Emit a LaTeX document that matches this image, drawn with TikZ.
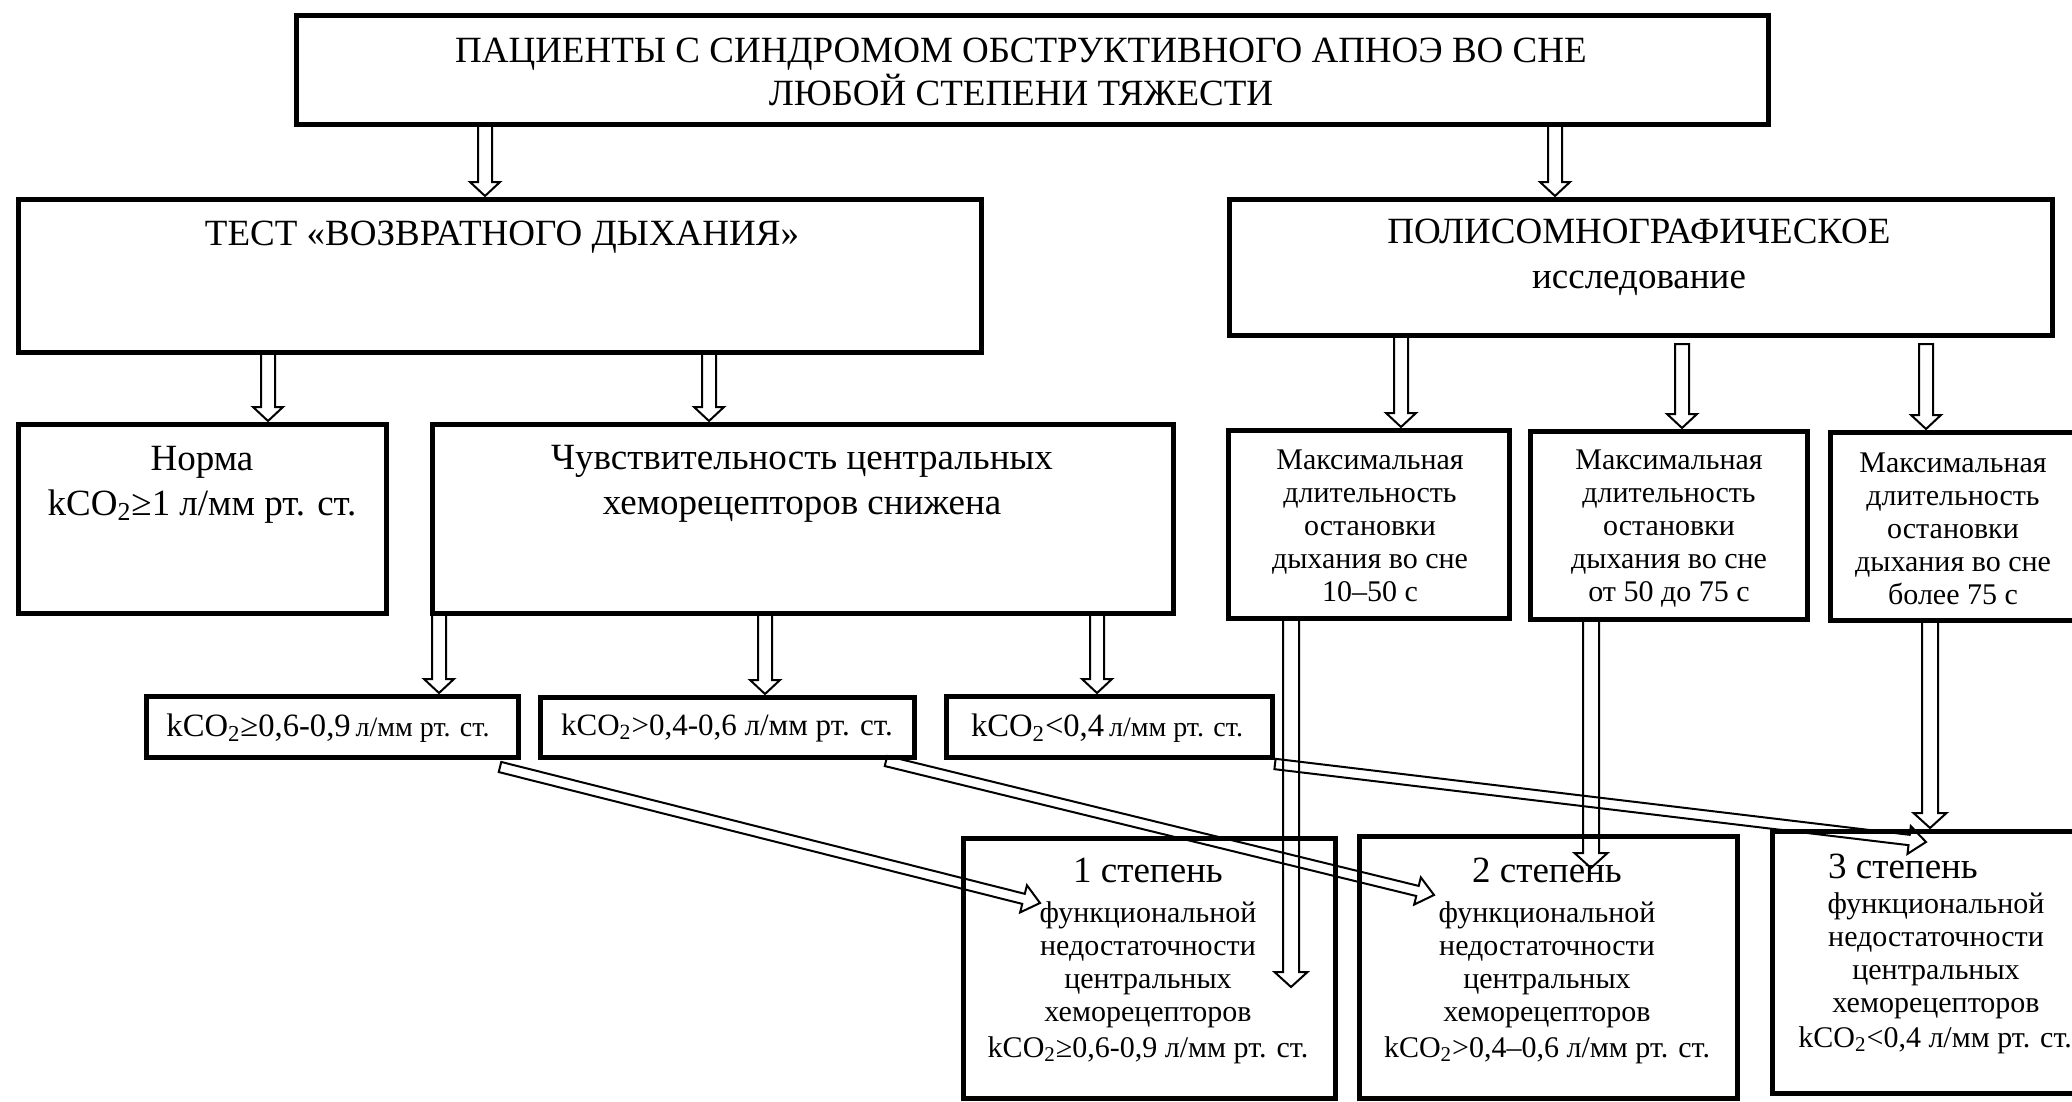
\documentclass[tikz,border=0pt]{standalone}
\usepackage{fontspec}
\setmainfont{Liberation Serif}
\usetikzlibrary{calc,fit}
\newcommand{\fsz}[2]{\fontsize{#1}{#2}\selectfont}
\newcommand{\kc}{kCO\textsubscript{2}}
\newcommand{\harrow}[5]{%
  \coordinate (hs) at (#4);
  \coordinate (he) at (#5);
  \coordinate (hn) at ($(he)!#3!(hs)$);
  \draw[arrowline] ($(hs)!#1!90:(he)$) -- ($(hn)!#1!-90:(hs)$) -- ($(hn)!#2!-90:(hs)$) -- (he) -- ($(hn)!#2!90:(hs)$) -- ($(hn)!#1!90:(hs)$) -- ($(hs)!#1!-90:(he)$) -- cycle;}
\newcommand{\varrow}[2]{\harrow{3.5pt}{7.5pt}{7pt}{#1}{#2}}
\newcommand{\larrow}[2]{\harrow{4pt}{8.25pt}{7.5pt}{#1}{#2}}
\newcommand{\darrow}[2]{\harrow{2.6pt}{7pt}{8.5pt}{#1}{#2}}
\tikzset{
  box/.style={draw, line width=2.5pt, inner sep=0pt, outer sep=0pt, fit={#1}},
  txt/.style={align=center, inner sep=0pt},
  big/.style={font=\fsz{18.5}{22.5}},
  small/.style={font=\fsz{15}{16.5}},
  arrowline/.style={draw, line width=1pt, line join=miter}
}
\begin{document}
\begin{tikzpicture}[x=0.5pt,y=-0.5pt]
\useasboundingbox (0,0) rectangle (2072,1102);
\clip (0,0) rectangle (2072,1102);
% boxes
\node[box={(296,16) (1768,125)}] (top) {};
\node[box={(18,199) (981,352)}] (test) {};
\node[box={(1229,199) (2052,335)}] (polis) {};
\node[box={(18,424) (386,613)}] (norma) {};
\node[box={(432,424) (1173,613)}] (chuv) {};
\node[box={(1228,430) (1509,618)}] (m1) {};
\node[box={(1530,431) (1807,619)}] (m2) {};
\node[box={(1830,432) (2100,620)}] (m3) {};
\node[box={(146,696) (518,757)}] (k1) {};
\node[box={(540,697) (914,757)}] (k2) {};
\node[box={(946,696) (1272,757)}] (k3) {};
\node[box={(963,838) (1335,1098)}] (b1) {};
\node[box={(1359,836) (1737,1098)}] (b2) {};
\node[box={(1772,831) (2100,1093)}] (b3) {};
% texts
\node[txt, font=\fsz{18.5}{21.5}] (toptx) at (1021,72) {ПАЦИЕНТЫ С СИНДРОМОМ ОБСТРУКТИВНОГО АПНОЭ ВО СНЕ\\ЛЮБОЙ СТЕПЕНИ ТЯЖЕСТИ};
\node[txt, big] (testtx) at (502,237) {ТЕСТ «ВОЗВРАТНОГО ДЫХАНИЯ»};
\node[txt, big] (polistx) at (1639,257) {ПОЛИСОМНОГРАФИЧЕСКОЕ\\исследование};
\node[txt, big] (normatx) at (202,485) {Норма\\\kc≥1 л/мм рт. ст.};
\node[txt, big] (chuvtx) at (802,484) {Чувствительность центральных\\хеморецепторов снижена};
\node[txt, small] (m1tx) at (1370,526) {Максимальная\\длительность\\остановки\\дыхания во сне\\10–50 с};
\node[txt, small] (m2tx) at (1669,529) {Максимальная\\длительность\\остановки\\дыхания во сне\\от 50 до 75 с};
\node[txt, small] (m3tx) at (1953,529) {Максимальная\\длительность\\остановки\\дыхания во сне\\более 75 с};
\node[txt] (k1tx) at (328,728) {{\fsz{16.3}{18}\kc≥0,6-0,9} {\fsz{14}{16}л/мм рт. ст.}};
\node[txt, font=\fsz{15.5}{18}] (k2tx) at (727,728) {\kc>0,4-0,6 л/мм рт. ст.};
\node[txt] (k3tx) at (1107,728) {{\fsz{16.3}{18}\kc<0,4} {\fsz{14}{16}л/мм рт. ст.}};
\node[txt, small] (b1tx) at (1148,961) {{\fsz{18.5}{16.5}1 степень}\\[3.5pt]функциональной\\недостаточности\\центральных\\хеморецепторов\\[1.5pt]\kc≥0,6-0,9 л/мм рт. ст.};
\node[txt, small] (b2tx) at (1547,961) {{\fsz{18.5}{16.5}2 степень}\\[3.5pt]функциональной\\недостаточности\\центральных\\хеморецепторов\\[1.5pt]\kc>0,4–0,6 л/мм рт. ст.};
\node[txt, font=\fsz{18.5}{16.5}] (b3head) at (1903,866) {3 степень};
\node[txt, small] (b3tx) at (1936,956) {функциональной\\недостаточности\\центральных\\хеморецепторов};
\node[txt, small, anchor=west] (b3last) at (1798,1040) {\kc<0,4 л/мм рт. ст.};
% vertical arrows
\varrow{$(top.south west)+(189,0)$}{$(test.north west)+(467,-3)$}
\varrow{$(top.south west)+(1259,0)$}{$(polis.north west)+(326,-3)$}
\varrow{$(test.south west)+(250,0)$}{$(norma.north west)+(250,-3)$}
\varrow{$(test.south west)+(691,0)$}{$(chuv.north west)+(277,-3)$}
\varrow{$(polis.south west)+(172,0)$}{$(m1.north west)+(173,-3)$}
\varrow{$(polis.south west)+(453,9)$}{$(m2.north west)+(152,-3)$}
\varrow{$(polis.south west)+(697,9)$}{$(m3.north west)+(96,-3)$}
\varrow{$(chuv.south west)+(7,0)$}{$(k1.north west)+(293,-3)$}
\varrow{$(chuv.south west)+(333,0)$}{$(k2.north west)+(225,-3)$}
\varrow{$(chuv.south west)+(665,0)$}{$(k3.north west)+(151,-3)$}
% long arrows
\larrow{$(m1.south west)+(63,0)$}{$(b1.north west)+(328,149)$}
\larrow{$(m2.south west)+(61,0)$}{$(b2.north west)+(232,32)$}
\larrow{$(m3.south west)+(100,0)$}{$(b3.north west)+(158,-3)$}
% diagonal arrows
\darrow{$(k1.south east)+(-18,10)$}{$(b1.north west)+(77,65)$}
\darrow{$(k2.south east)+(-28,4)$}{$(b2.north west)+(75,59)$}
\darrow{$(k3.south east)+(3,7)$}{$(b3.north west)+(154,11)$}
\end{tikzpicture}
\end{document}
